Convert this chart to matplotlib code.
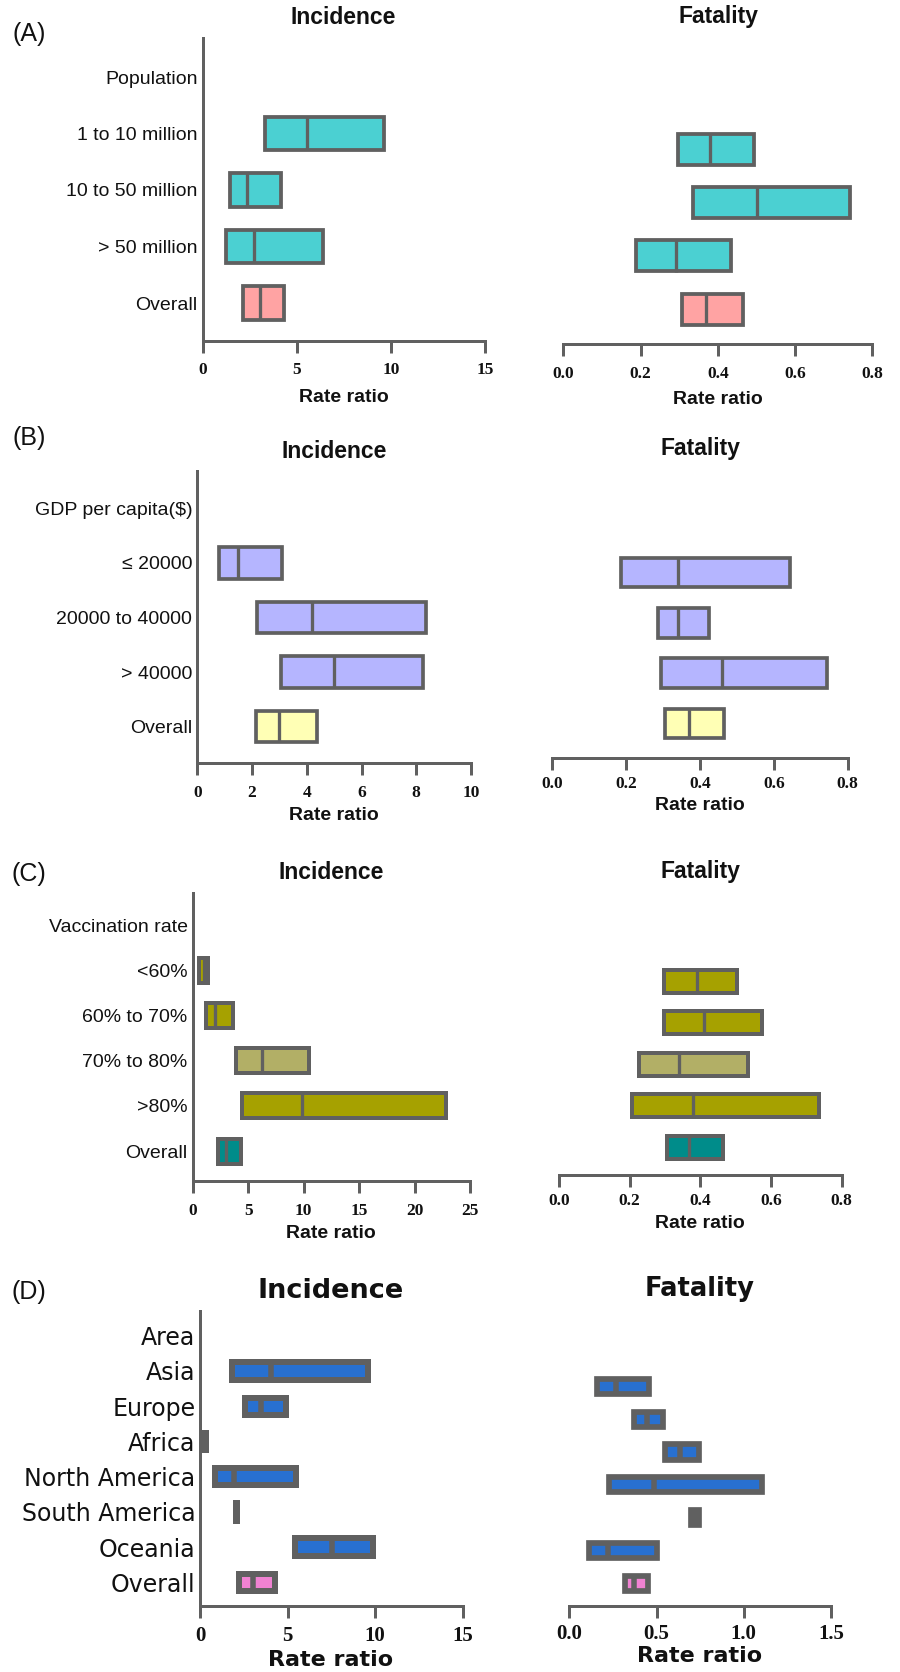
import matplotlib
matplotlib.use("Agg")
import matplotlib.pyplot as plt
import numpy as np

# ---------------------------------------------------------------- data
pop_rows = ["Population", "1 to 10 million", "10 to 50 million", "> 50 million", "Overall"]
pop_inc_lo = [3.30, 1.45, 1.26, 2.16]
pop_inc_med = [5.53, 2.38, 2.73, 3.02]
pop_inc_hi = [9.63, 4.15, 6.37, 4.33]
pop_fat_lo = [0.296, 0.336, 0.187, 0.307]
pop_fat_med = [0.381, 0.501, 0.291, 0.370]
pop_fat_hi = [0.494, 0.743, 0.434, 0.464]
pop_colors = ["#4BD0D2", "#4BD0D2", "#4BD0D2", "#FFA3A3"]

gdp_rows = ["GDP per capita($)", "≤ 20000", "20000 to 40000", "> 40000", "Overall"]
gdp_inc_lo = [0.79, 2.17, 3.06, 2.13]
gdp_inc_med = [1.50, 4.20, 5.01, 2.98]
gdp_inc_hi = [3.09, 8.35, 8.25, 4.36]
gdp_fat_lo = [0.186, 0.286, 0.295, 0.306]
gdp_fat_med = [0.340, 0.340, 0.460, 0.370]
gdp_fat_hi = [0.645, 0.424, 0.744, 0.464]
gdp_colors = ["#B5B5FF", "#B5B5FF", "#B5B5FF", "#FFFFB5"]

vac_rows = ["Vaccination rate", "<60%", "60% to 70%", "70% to 80%", ">80%", "Overall"]
vac_inc_lo = [0.59, 1.23, 3.93, 4.47, 2.25]
vac_inc_med = [1.05, 2.01, 6.24, 9.82, 3.03]
vac_inc_hi = [1.35, 3.66, 10.5, 22.8, 4.32]
vac_fat_lo = [0.296, 0.296, 0.225, 0.206, 0.306]
vac_fat_med = [0.391, 0.409, 0.339, 0.380, 0.369]
vac_fat_hi = [0.505, 0.574, 0.536, 0.735, 0.465]
vac_colors = ["#A6A100", "#A6A100", "#B2AF66", "#A6A100", "#008C8A"]

area_rows = ["Area", "Asia", "Europe", "Africa", "North America", "South America", "Oceania", "Overall"]
area_inc_lo = [1.83, 2.54, 0.29, 0.82, 2.02, 5.44, 2.19]
area_inc_med = [4.04, 3.49, 0.30, 1.93, 2.05, 7.55, 3.02]
area_inc_hi = [9.59, 4.91, 0.31, 5.47, 2.09, 9.85, 4.28]
area_fat_lo = [0.160, 0.370, 0.548, 0.230, 0.699, 0.112, 0.320]
area_fat_med = [0.265, 0.443, 0.634, 0.487, 0.722, 0.223, 0.370]
area_fat_hi = [0.455, 0.537, 0.745, 1.105, 0.745, 0.500, 0.453]
area_colors = ["#2870D0"] * 6 + ["#F082D2"]

ticks_inc_a = [0, 5, 10, 15]
ticks_inc_b = [0, 2, 4, 6, 8, 10]
ticks_inc_c = [0, 5, 10, 15, 20, 25]
ticks_inc_d = [0, 5, 10, 15]
ticks_fat_abc = [0.0, 0.2, 0.4, 0.6, 0.8]
ticks_fat_d = [0.0, 0.5, 1.0, 1.5]

# ---------------------------------------------------------------- figure
W, H, DPI = 900, 1672, 100
fig = plt.figure(figsize=(W / DPI, H / DPI), dpi=DPI)
EDGE = "#606060"
PT = 72.0 / DPI  # points per pixel

SANS = ["Liberation Sans", "DejaVu Sans"]
WIDE = ["DejaVu Sans"]
SERIF = ["Liberation Serif", "DejaVu Serif"]


def ftext(x, y, s, **kw):
    fig.text(x / W, 1 - y / H, s, ha="center", va="center", color="#111111", **kw)


def forest(x0, x1, y_top, y_spine, row0, step, xmax, ticks, ticklabels,
           lo, med, hi, colors, box_px, lw_px, mlw_px, rows=None,
           label_font=SANS, label_size=14, tick_size=12.5, tick_pad_px=10,
           spine_px=3.0, first_row=1):
    ax = fig.add_axes([x0 / W, 1 - y_spine / H, (x1 - x0) / W, (y_spine - y_top) / H])
    ax.set_xlim(0, xmax)
    ax.set_ylim((y_spine - row0) / step, (y_top - row0) / step)
    ax.patch.set_visible(False)

    ypos = np.arange(first_row, first_row + len(lo))
    lo = np.asarray(lo)
    hi = np.asarray(hi)
    h = (box_px - lw_px) / step
    ax.barh(ypos, hi - lo, left=lo, height=h, color=colors, edgecolor=EDGE,
            linewidth=lw_px * PT, clip_on=False, zorder=3)
    ax.vlines(med, ypos - h / 2, ypos + h / 2, colors=EDGE,
              linewidth=mlw_px * PT, clip_on=False, zorder=4)

    for side in ("top", "right"):
        ax.spines[side].set_visible(False)
    ax.spines["bottom"].set_color(EDGE)
    ax.spines["bottom"].set_linewidth(spine_px * PT)
    if rows is None:
        ax.spines["left"].set_visible(False)
        ax.set_yticks([])
    else:
        ax.spines["left"].set_color(EDGE)
        ax.spines["left"].set_linewidth(spine_px * PT)
        ax.set_yticks(np.arange(len(rows)), labels=rows)
        ax.tick_params(axis="y", length=0, pad=5 * PT)
        for t in ax.get_yticklabels():
            t.set_family(label_font)
            t.set_fontsize(label_size)
            t.set_color("#111111")

    ax.set_xticks(ticks, labels=ticklabels)
    ax.tick_params(axis="x", direction="out", length=12 * PT, width=spine_px * PT,
                   color=EDGE, pad=tick_pad_px * PT)
    for t in ax.get_xticklabels():
        t.set_family(SERIF)
        t.set_fontweight("bold")
        t.set_fontsize(tick_size)
        t.set_color("#111111")
    return ax


def fmt1(v):
    return [f"{t:.1f}" for t in v]


def fmt0(v):
    return [f"{t:g}" for t in v]


# ---- (A) population
forest(202.7, 485, 38, 340.5, 77, 56.5, 15, ticks_inc_a, fmt0(ticks_inc_a),
       pop_inc_lo, pop_inc_med, pop_inc_hi, pop_colors, 37, 3.8, 3.3, rows=pop_rows)
forest(563.3, 872.3, 40, 344, 96, 53.3, 0.8, ticks_fat_abc, fmt1(ticks_fat_abc),
       pop_fat_lo, pop_fat_med, pop_fat_hi, pop_colors, 35, 3.8, 3.3)
ftext(29, 34, "(A)", family=SANS, fontsize=18)
ftext(343, 18, "Incidence", family=SANS, fontsize=16.5, fontweight="bold")
ftext(718, 17, "Fatality", family=SANS, fontsize=16.5, fontweight="bold")
ftext(344, 397, "Rate ratio", family=SANS, fontsize=14, fontweight="bold")
ftext(718, 399, "Rate ratio", family=SANS, fontsize=14, fontweight="bold")

# ---- (B) GDP per capita
forest(197.3, 471, 470.7, 762.7, 508.3, 54.6, 10, ticks_inc_b, fmt0(ticks_inc_b),
       gdp_inc_lo, gdp_inc_med, gdp_inc_hi, gdp_colors, 35, 3.7, 3.3, rows=gdp_rows)
forest(552.3, 847.7, 470, 757.7, 522.5, 50.2, 0.8, ticks_fat_abc, fmt1(ticks_fat_abc),
       gdp_fat_lo, gdp_fat_med, gdp_fat_hi, gdp_colors, 33, 3.7, 3.3, tick_pad_px=6)
ftext(29, 438, "(B)", family=SANS, fontsize=18)
ftext(334, 451, "Incidence", family=SANS, fontsize=16.5, fontweight="bold")
ftext(700, 448, "Fatality", family=SANS, fontsize=16.5, fontweight="bold")
ftext(334, 815, "Rate ratio", family=SANS, fontsize=14, fontweight="bold")
ftext(700, 806, "Rate ratio", family=SANS, fontsize=14, fontweight="bold")

# ---- (C) vaccination rate
forest(192.7, 470, 893.3, 1181, 925.3, 45.15, 25, ticks_inc_c, fmt0(ticks_inc_c),
       vac_inc_lo, vac_inc_med, vac_inc_hi, vac_colors, 29, 4.0, 3.3, rows=vac_rows)
forest(559, 841.7, 893, 1175, 939.5, 41.5, 0.8, ticks_fat_abc, fmt1(ticks_fat_abc),
       vac_fat_lo, vac_fat_med, vac_fat_hi, vac_colors, 27, 4.0, 3.3, tick_pad_px=6)
ftext(29, 874, "(C)", family=SANS, fontsize=18)
ftext(331, 873, "Incidence", family=SANS, fontsize=16.5, fontweight="bold")
ftext(700, 872, "Fatality", family=SANS, fontsize=16.5, fontweight="bold")
ftext(331, 1234, "Rate ratio", family=SANS, fontsize=14, fontweight="bold")
ftext(700, 1224, "Rate ratio", family=SANS, fontsize=14, fontweight="bold")

# ---- (D) area
forest(200.3, 462.7, 1310.7, 1606, 1335.7, 35.23, 15, ticks_inc_d, fmt0(ticks_inc_d),
       area_inc_lo, area_inc_med, area_inc_hi, area_colors, 23.3, 6.0, 5.5,
       rows=area_rows, label_font=WIDE, label_size=17, tick_size=15, tick_pad_px=8)
forest(569.3, 831, 1310, 1606, 1353.5, 32.83, 1.5, ticks_fat_d, fmt1(ticks_fat_d),
       area_fat_lo, area_fat_med, area_fat_hi, area_colors, 21, 5.7, 5.5,
       tick_size=15, tick_pad_px=6)
ftext(29, 1292, "(D)", family=SANS, fontsize=18)
ftext(331, 1291, "Incidence", family=WIDE, fontsize=19.5, fontweight="bold")
ftext(700, 1289, "Fatality", family=WIDE, fontsize=18.5, fontweight="bold")
ftext(331, 1660, "Rate ratio", family=WIDE, fontsize=16, fontweight="bold")
ftext(700, 1656, "Rate ratio", family=WIDE, fontsize=16, fontweight="bold")

fig.savefig("out.png", dpi=DPI, facecolor="white")
